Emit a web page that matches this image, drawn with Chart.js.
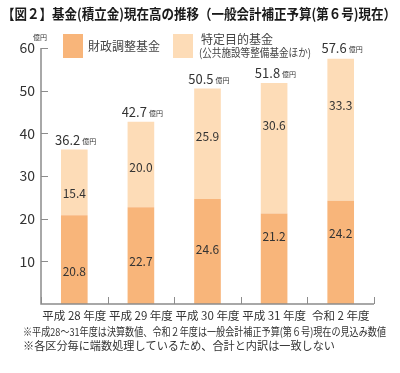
<!DOCTYPE html>
<html><head><meta charset="utf-8">
<script src="https://cdn.jsdelivr.net/npm/chart.js@4/dist/chart.umd.min.js"></script>
<style>html,body{margin:0;padding:0;background:#fff}canvas{display:block}</style>
</head><body>
<canvas id="c" width="400" height="373"></canvas>
<script>
const titleText = '【図２】基金(積立金)現在高の推移（一般会計補正予算(第６号)現在）';
const categories = ['平成 28 年度', '平成 29 年度', '平成 30 年度', '平成 31 年度', '令和 2 年度'];
const seriesNames = ['財政調整基金', '特定目的基金'];
const seriesSubName = '(公共施設等整備基金ほか)';
const fiscalFund = [20.8, 22.7, 24.6, 21.2, 24.2];
const specificFund = [15.4, 20.0, 25.9, 30.6, 33.3];
const totals = [36.2, 42.7, 50.5, 51.8, 57.6];
const yTicks = [0, 10, 20, 30, 40, 50, 60];
const unitText = '億円';
const notes = ['※平成28～31年度は決算数値、令和２年度は一般会計補正予算(第６号)現在の見込み数値',
               '※各区分毎に端数処理しているため、合計と内訳は一致しない'];

const FONT = '"Noto Sans CJK JP", "Noto Sans", sans-serif';
const colors = ['#F8B57A', '#FDDCB7'];
const labelOffsets = [[12, 6, -2, -22, -19], [11, 3, -7, -23, -24]];
const axisColor = '#8c8c8c';
const textColor = '#333';

const deco = {
  id: 'deco',
  afterDraw(chart) {
    const ctx = chart.ctx;
    const x = chart.scales.x, y = chart.scales.y;
    const ca = chart.chartArea;
    ctx.save();
    // axes
    ctx.strokeStyle = axisColor;
    ctx.lineWidth = 1.5;
    ctx.beginPath();
    ctx.moveTo(ca.left, y.getPixelForValue(60));
    ctx.lineTo(ca.left, y.getPixelForValue(0));
    ctx.lineTo(ca.right, y.getPixelForValue(0));
    ctx.stroke();
    ctx.lineWidth = 1;
    ctx.beginPath();
    yTicks.forEach(v => {
      if (v === 0) return;
      const py = Math.round(y.getPixelForValue(v)) + 0.5;
      ctx.moveTo(ca.left, py); ctx.lineTo(ca.left + 7, py);
    });
    const n = categories.length;
    const cw = (ca.right - ca.left) / n;
    const by = y.getPixelForValue(0);
    for (let i = 0; i <= n; i++) {
      const px = Math.round(ca.left + i * cw) + 0.5;
      ctx.moveTo(px, by); ctx.lineTo(px, by - 7);
    }
    ctx.stroke();
    // unit at top of y axis
    ctx.fillStyle = textColor;
    ctx.font = '7px ' + FONT;
    ctx.textAlign = 'left';
    ctx.textBaseline = 'middle';
    ctx.fillText(unitText, 33, 37);
    // inner labels
    ctx.font = '12px ' + FONT;
    ctx.textAlign = 'center';
    ctx.textBaseline = 'middle';
    [0, 1].forEach(di => {
      const meta = chart.getDatasetMeta(di);
      meta.data.forEach((bar, j) => {
        const val = chart.data.datasets[di].data[j];
        const cy = (bar.y + bar.base) / 2 + labelOffsets[di][j];
        ctx.fillText(val.toFixed(1), bar.x, cy);
      });
    });
    // totals
    const top = chart.getDatasetMeta(1);
    top.data.forEach((bar, j) => {
      const ty = y.getPixelForValue(totals[j]) - 5;
      ctx.textBaseline = 'alphabetic';
      ctx.font = '13px ' + FONT;
      ctx.textAlign = 'right';
      ctx.fillText(totals[j].toFixed(1), bar.x + 6, ty);
      ctx.font = '7px ' + FONT;
      ctx.textAlign = 'left';
      ctx.fillText(unitText, bar.x + 8, ty - 1);
    });
    // title
    ctx.fillStyle = '#1a1a1a';
    ctx.font = 'bold 14px ' + FONT;
    ctx.textAlign = 'left';
    ctx.textBaseline = 'middle';
    ctx.fillText(titleText, 2, 14, 394);
    // legend
    ctx.fillStyle = colors[0];
    ctx.fillRect(63, 34, 20, 24);
    ctx.fillStyle = colors[1];
    ctx.fillRect(173, 34, 20, 24);
    ctx.fillStyle = '#444';
    ctx.font = '12px ' + FONT;
    ctx.fillText(seriesNames[0], 88, 46);
    ctx.fillText(seriesNames[1], 201, 39);
    ctx.font = '11px ' + FONT;
    ctx.fillText(seriesSubName, 199, 53, 112);
    // notes
    ctx.fillStyle = textColor;
    ctx.font = '11px ' + FONT;
    ctx.fillText(notes[0], 23, 332, 363);
    ctx.font = '11.5px ' + FONT;
    ctx.fillText(notes[1], 23, 346, 312);
    ctx.restore();
  }
};

new Chart(document.getElementById('c'), {
  type: 'bar',
  data: {
    labels: categories,
    datasets: [
      { label: seriesNames[0], data: fiscalFund, backgroundColor: colors[0], borderWidth: 0 },
      { label: seriesNames[1], data: specificFund, backgroundColor: colors[1], borderWidth: 0 }
    ]
  },
  options: {
    responsive: false,
    devicePixelRatio: 1,
    animation: false,
    layout: { padding: { left: 0, right: 26, top: 48, bottom: 0 } },
    datasets: { bar: { categoryPercentage: 1, barPercentage: 0.4 } },
    plugins: { legend: { display: false }, tooltip: { enabled: false }, title: { display: false } },
    scales: {
      x: {
        stacked: true,
        grid: { display: false, drawTicks: false },
        border: { display: false },
        ticks: { color: textColor, font: { family: FONT, size: 11.5 }, padding: 5, maxRotation: 0, autoSkip: false },
        afterFit: s => { s.height = 69; }
      },
      y: {
        stacked: true,
        min: 0, max: 60,
        afterBuildTicks: s => { s.ticks = yTicks.map(v => ({ value: v })); },
        grid: { display: false, drawTicks: false },
        border: { display: false },
        ticks: { color: textColor, font: { family: FONT, size: 14 }, padding: 6,
                 callback: v => v === 0 ? '' : String(v) },
        afterFit: s => { s.width = 41; }
      }
    }
  },
  plugins: [deco]
});
</script>
</body></html>
